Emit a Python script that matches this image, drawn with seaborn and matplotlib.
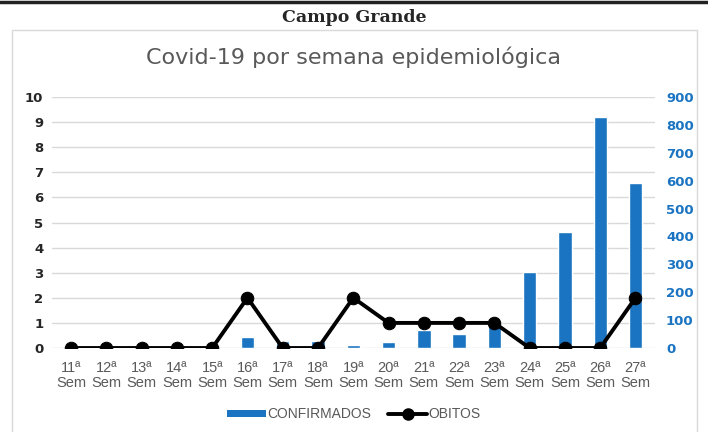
import matplotlib
matplotlib.use("Agg")
import matplotlib.pyplot as plt
from matplotlib.lines import Line2D
from matplotlib.patches import Rectangle, Patch
import seaborn as sns
import pandas as pd
import numpy as np

# dados
semanas = ["11ª\nSem", "12ª\nSem", "13ª\nSem", "14ª\nSem", "15ª\nSem", "16ª\nSem",
           "17ª\nSem", "18ª\nSem", "19ª\nSem", "20ª\nSem", "21ª\nSem", "22ª\nSem",
           "23ª\nSem", "24ª\nSem", "25ª\nSem", "26ª\nSem", "27ª\nSem"]
confirmados = [0, 0, 0, 10, 0, 38, 25, 25, 12, 20, 65, 50, 95, 272, 417, 828, 592]
obitos = [0, 0, 0, 0, 0, 2, 0, 0, 2, 1, 1, 1, 1, 0, 0, 0, 2]

left_ticks = list(range(0, 11))
right_ticks = list(range(0, 901, 100))

df = pd.DataFrame({"semana": semanas, "confirmados": confirmados,
                   "obitos": obitos, "pos": np.arange(len(semanas))})

sns.set_theme(style="white")
plt.rcParams["font.family"] = ["DejaVu Sans"]

azul = "#1a74c2"
cinza = "#595959"
narrow = ["Liberation Sans", "DejaVu Sans"]

fig = plt.figure(figsize=(7.08, 4.32), dpi=100)
ax = fig.add_axes([0.073, 0.1944, 0.852, 0.5811])
ax2 = ax.twinx()

# barras no eixo secundario, atrás da linha
ax2.set_zorder(1)
ax.set_zorder(2)
ax.patch.set_visible(False)

# grade segue o eixo da esquerda (0-10)
for v in left_ticks:
    ax2.axhline(v * 90, color="#d9d9d9", lw=1, zorder=0)

sns.barplot(data=df, x="semana", y="confirmados", ax=ax2, color=azul,
            width=0.38, saturation=1, zorder=2)
sns.lineplot(data=df, x="pos", y="obitos", ax=ax, color="black", lw=2.8,
             marker="o", markersize=9, markeredgecolor="black")

ax.set_xlim(-0.55, len(semanas) - 0.45)
ax2.set_xlim(-0.55, len(semanas) - 0.45)
ax.set_ylim(0, 10)
ax2.set_ylim(0, 900)
ax.set_yticks(left_ticks)
ax2.set_yticks(right_ticks)
ax.set_xticks(df["pos"])
ax.set_xticklabels(semanas, color=cinza, fontsize=10.5, linespacing=1.1,
                   family=narrow)
ax.tick_params(axis="x", length=0, pad=9)
ax2.tick_params(axis="x", length=0, labelbottom=False)
ax.set_xlabel("")
ax.set_ylabel("")
ax2.set_xlabel("")
ax2.set_ylabel("")
for lab in ax.get_yticklabels():
    lab.set_fontweight("bold")
    lab.set_fontsize(9.5)
ax.tick_params(axis="y", length=0, pad=6)
for lab in ax2.get_yticklabels():
    lab.set_fontweight("bold")
    lab.set_fontsize(9.5)
    lab.set_color(azul)
ax2.tick_params(axis="y", length=0, pad=8)

ax.grid(False)
ax2.grid(False)
for a in (ax, ax2):
    for s in a.spines.values():
        s.set_visible(False)

# moldura e títulos
fig.add_artist(Line2D([0, 1], [0.995, 0.995], color="#222222", lw=2.5))
fig.add_artist(Rectangle((12 / 708, -0.05), 685 / 708, 1.05 - 30 / 432,
                         fill=False, edgecolor="#d9d9d9", lw=1))
fig.text(0.5, 1 - 18 / 432, "Campo Grande", ha="center", va="center",
         fontsize=12.5, fontweight="bold", family=["DejaVu Serif"])
fig.text(0.5, 1 - 57 / 432, "Covid-19 por semana epidemiológica", ha="center",
         va="center", fontsize=16, color=cinza)

handles = [Patch(facecolor=azul, edgecolor="none"),
           Line2D([], [], color="black", lw=2.8, marker="o", markersize=8)]
fig.legend(handles, ["CONFIRMADOS", "OBITOS"], loc="center",
           bbox_to_anchor=(0.5, 1 - 414 / 432), ncol=2, frameon=False,
           labelcolor=cinza, handlelength=2.8, handleheight=0.4,
           handletextpad=0.1, columnspacing=1.2,
           prop={"family": narrow, "size": 10})

fig.savefig("out.png", dpi=100)
